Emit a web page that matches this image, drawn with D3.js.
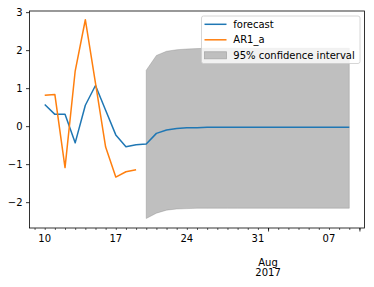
<!DOCTYPE html>
<html><head><meta charset="utf-8">
<script src="https://cdn.jsdelivr.net/npm/d3@7"></script>
<style>body{margin:0;background:#fff} svg{display:block;font-family:"DejaVu Sans",sans-serif}</style>
</head><body><svg id="c" width="374" height="287"></svg>
<script>
const forecastDates = ["2017-07-10","2017-07-11","2017-07-12","2017-07-13","2017-07-14","2017-07-15","2017-07-16","2017-07-17","2017-07-18","2017-07-19","2017-07-20","2017-07-21","2017-07-22","2017-07-23","2017-07-24","2017-07-25","2017-07-26","2017-07-27","2017-07-28","2017-07-29","2017-07-30","2017-07-31","2017-08-01","2017-08-02","2017-08-03","2017-08-04","2017-08-05","2017-08-06","2017-08-07","2017-08-08","2017-08-09"];
const forecastValues = [0.57,0.31,0.31,-0.44,0.55,1.07,0.42,-0.23,-0.54,-0.49,-0.47,-0.19,-0.10,-0.06,-0.04,-0.04,-0.03,-0.03,-0.03,-0.03,-0.03,-0.03,-0.03,-0.03,-0.03,-0.03,-0.03,-0.03,-0.03,-0.03,-0.03];
const actualDates = ["2017-07-10","2017-07-11","2017-07-12","2017-07-13","2017-07-14","2017-07-15","2017-07-16","2017-07-17","2017-07-18","2017-07-19"];
const actualValues = [0.81,0.83,-1.09,1.45,2.80,1.13,-0.55,-1.34,-1.20,-1.15];
const ciDates = ["2017-07-20","2017-07-21","2017-07-22","2017-07-23","2017-07-24","2017-07-25","2017-07-26","2017-07-27","2017-07-28","2017-07-29","2017-07-30","2017-07-31","2017-08-01","2017-08-02","2017-08-03","2017-08-04","2017-08-05","2017-08-06","2017-08-07","2017-08-08","2017-08-09"];
const ciUpper = [1.47,1.86,1.97,2.01,2.03,2.04,2.05,2.05,2.05,2.05,2.05,2.05,2.05,2.05,2.05,2.05,2.05,2.05,2.05,2.05,2.05];
const ciLower = [-2.43,-2.29,-2.21,-2.18,-2.17,-2.16,-2.16,-2.16,-2.16,-2.16,-2.16,-2.16,-2.16,-2.16,-2.16,-2.16,-2.16,-2.16,-2.16,-2.16,-2.16];
const yTicks = [-2,-1,0,1,2,3];
const xLabelDates = ["2017-07-10","2017-07-17","2017-07-24","2017-07-31","2017-08-07"];
const xLabels = ["10","17","24","31","07"];
const xMajorDates = ["2017-08-01","2017-08-10"];
const legendLabels = ["forecast","AR1_a","95% confidence interval"];

const P = s => new Date(s + "T00:00:00Z");
const svg = d3.select("#c");
const L = 29.5, R = 364.5, T = 11, B = 228;
const x = d3.scaleUtc().domain([new Date(Date.UTC(2017,6,8,12)), new Date(Date.UTC(2017,7,10,12))]).range([L, R]);
const y = d3.scaleLinear().domain([-2.68, 3.03]).range([B, T]);

// CI
const ci = ciDates.map((d,i)=>({d:P(d),lo:ciLower[i],hi:ciUpper[i]}));
svg.append("path").datum(ci)
  .attr("d", d3.area().x(p=>x(p.d)).y0(p=>y(p.lo)).y1(p=>y(p.hi)))
  .attr("fill","#bfbfbf").attr("stroke","#808080").attr("stroke-opacity",0.35).attr("stroke-width",1);

const line = d3.line().x(p=>x(p.d)).y(p=>y(p.v));
svg.append("path").datum(forecastDates.map((d,i)=>({d:P(d),v:forecastValues[i]})))
  .attr("d", line).attr("fill","none").attr("stroke","#1f77b4").attr("stroke-width",1.5).attr("stroke-linejoin","round");
svg.append("path").datum(actualDates.map((d,i)=>({d:P(d),v:actualValues[i]})))
  .attr("d", line).attr("fill","none").attr("stroke","#ff7f0e").attr("stroke-width",1.5).attr("stroke-linejoin","round");

// axes
const yAxis = svg.append("g").attr("transform",`translate(${L},0)`)
  .call(d3.axisLeft(y).tickValues(yTicks).tickSize(3.5).tickPadding(3.5).tickFormat(d=>d<0?"\u2212"+Math.abs(d):d));
yAxis.select(".domain").remove();
yAxis.selectAll("text").attr("font-size",10).attr("font-family","DejaVu Sans").attr("fill","#000");
yAxis.selectAll("line").attr("stroke","#000").attr("stroke-width",0.8);

const minorDays = d3.utcDay.range(new Date(Date.UTC(2017,6,9)), new Date(Date.UTC(2017,7,11)));
const xMinor = svg.append("g").attr("transform",`translate(0,${B})`)
  .call(d3.axisBottom(x).tickValues(minorDays).tickSize(2).tickFormat(""));
xMinor.select(".domain").remove();
xMinor.selectAll("line").attr("stroke","#000").attr("stroke-width",0.6);
const xMajor = svg.append("g").attr("transform",`translate(0,${B})`)
  .call(d3.axisBottom(x).tickValues(xMajorDates.map(P)).tickSize(3.5).tickFormat(""));
xMajor.select(".domain").remove();
xMajor.selectAll("line").attr("stroke","#000").attr("stroke-width",0.8);

const xl = svg.append("g");
xLabelDates.forEach((d,i)=>{
  xl.append("text").attr("x",x(P(d))).attr("y",241.8).attr("text-anchor","middle")
    .attr("font-size",10).attr("fill","#000").text(xLabels[i]);
});
xl.append("text").attr("x",x(P("2017-08-01"))).attr("y",265.5).attr("text-anchor","middle").attr("font-size",10).attr("fill","#000").text("Aug");
xl.append("text").attr("x",x(P("2017-08-01"))).attr("y",276).attr("text-anchor","middle").attr("font-size",10).attr("fill","#000").text("2017");

// spines
svg.append("rect").attr("x",L).attr("y",T).attr("width",R-L).attr("height",B-T)
  .attr("fill","none").attr("stroke","#000").attr("stroke-width",0.8);

// legend
const lg = svg.append("g");
lg.append("rect").attr("x",201.5).attr("y",16).attr("width",158.5).attr("height",47.5).attr("rx",2)
  .attr("fill","#fff").attr("fill-opacity",0.8).attr("stroke","#cccccc").attr("stroke-width",0.8);
const rowsY = [24.3, 39.8, 55.3];
lg.append("line").attr("x1",204.5).attr("x2",226.5).attr("y1",rowsY[0]).attr("y2",rowsY[0]).attr("stroke","#1f77b4").attr("stroke-width",1.5);
lg.append("line").attr("x1",204.5).attr("x2",226.5).attr("y1",rowsY[1]).attr("y2",rowsY[1]).attr("stroke","#ff7f0e").attr("stroke-width",1.5);
lg.append("rect").attr("x",204.5).attr("y",rowsY[2]-3.5).attr("width",22).attr("height",7)
  .attr("fill","#bfbfbf").attr("stroke","#a8a8a8").attr("stroke-width",0.8);
legendLabels.forEach((t,i)=>{
  lg.append("text").attr("x",233.3).attr("y",rowsY[i]+3.6).attr("font-size",10).attr("fill","#000").text(t);
});
</script></body></html>
